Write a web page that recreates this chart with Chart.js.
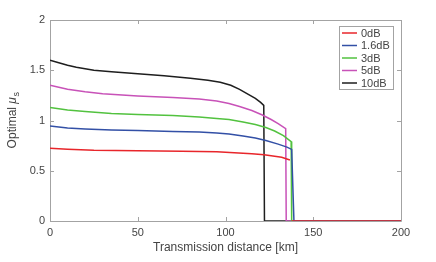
<!DOCTYPE html>
<html>
<head>
<meta charset="utf-8">
<script src="https://cdn.jsdelivr.net/npm/chart.js@4/dist/chart.umd.min.js"></script>
<style>
  html, body { margin: 0; padding: 0; background: #fff; }
  #wrap { width: 436px; height: 262px; }
</style>
</head>
<body>
<div id="wrap"><canvas id="muChart" width="436" height="262"></canvas></div>
<script>
// legend labels and colours
const seriesNames = ['0dB', '1.6dB', '3dB', '5dB', '10dB'];
const seriesColors = ['#e8262b', '#3350a6', '#52c23f', '#c852b8', '#1e1e1e'];

// distance [km] / optimal mu_s (null = line break)
const dist0dB  = [0, 10, 25, 50, 75, 95, 105, 115, 122, 128, 132, 136.7, 137.6, 137.7, 200];
const mu0dB    = [0.725, 0.715, 0.705, 0.70, 0.695, 0.69, 0.68, 0.67, 0.66, 0.645, 0.635, 0.607, null, 0, 0];
const dist16dB = [0, 10, 20, 35, 50, 70, 85, 95, 102, 110, 117, 123, 130, 135, 137.7, 139.0, 200];
const mu16dB   = [0.945, 0.925, 0.915, 0.905, 0.90, 0.89, 0.885, 0.875, 0.865, 0.845, 0.825, 0.80, 0.765, 0.735, 0.712, 0, 0];
const dist3dB  = [0, 10, 20, 35, 50, 70, 85, 95, 102, 110, 117, 123, 128, 133, 137.4, 137.7, 200];
const mu3dB    = [1.13, 1.105, 1.09, 1.07, 1.06, 1.05, 1.035, 1.02, 1.01, 0.985, 0.96, 0.93, 0.895, 0.85, 0.79, 0, 0];
const dist5dB  = [0, 5, 10, 20, 30, 50, 70, 85, 95, 102, 108, 115, 121, 126, 130, 134.3, 134.6, 200];
const mu5dB    = [1.35, 1.33, 1.31, 1.285, 1.265, 1.245, 1.23, 1.215, 1.195, 1.17, 1.14, 1.10, 1.055, 1.01, 0.97, 0.92, 0, 0];
const dist10dB = [0, 5, 10, 15, 20, 25, 35, 50, 65, 80, 90, 97, 103, 108, 113, 117, 120, 121.8, 122.2, 200];
const mu10dB   = [1.60, 1.575, 1.55, 1.53, 1.515, 1.50, 1.485, 1.465, 1.445, 1.42, 1.40, 1.38, 1.35, 1.31, 1.26, 1.22, 1.18, 1.15, 0, 0];

const xTicks = [0, 50, 100, 150, 200];
const yTicks = [0, 0.5, 1, 1.5, 2];

const allDist = [dist0dB, dist16dB, dist3dB, dist5dB, dist10dB];
const allMu = [mu0dB, mu16dB, mu3dB, mu5dB, mu10dB];

const FONT = '"Liberation Sans", Arial, sans-serif';
const AXIS_GRAY = '#a3a3a3';
const TEXT_GRAY = '#444444';

let datasets = seriesNames.map((name, i) => ({
    label: name,
    data: allDist[i].map((d, k) => ({ x: d, y: allMu[i][k] })),
    borderColor: seriesColors[i],
    backgroundColor: seriesColors[i],
    borderWidth: 1.5,
    pointRadius: 0,
    fill: false,
    spanGaps: false,
    tension: 0
}));

// box round the plot with inward ticks, like matlab
const framePlugin = {
    id: 'frame',
    beforeDatasetsDraw(chart) {
        const { ctx, chartArea: a, scales } = chart;
        ctx.save();
        ctx.strokeStyle = AXIS_GRAY;
        ctx.lineWidth = 1;
        ctx.beginPath();
        ctx.rect(Math.round(a.left) + 0.5, Math.round(a.top) + 0.5,
                 Math.round(a.right - a.left), Math.round(a.bottom - a.top));
        xTicks.forEach(v => {
            let px = Math.round(scales.x.getPixelForValue(v)) + 0.5;
            ctx.moveTo(px, a.bottom); ctx.lineTo(px, a.bottom - 4);
            ctx.moveTo(px, a.top); ctx.lineTo(px, a.top + 4);
        });
        yTicks.forEach(v => {
            let py = Math.round(scales.y.getPixelForValue(v)) + 0.5;
            ctx.moveTo(a.left, py); ctx.lineTo(a.left + 4, py);
            ctx.moveTo(a.right, py); ctx.lineTo(a.right - 4, py);
        });
        ctx.stroke();
        ctx.restore();
    },
    afterDraw(chart) {
        const { ctx, chartArea: a } = chart;
        ctx.save();
        // y axis title with italic mu and subscript s
        ctx.translate(13, (a.top + a.bottom) / 2);
        ctx.rotate(-Math.PI / 2);
        ctx.fillStyle = TEXT_GRAY;
        ctx.textBaseline = 'middle';
        let f1 = '12px ' + FONT, f2 = 'italic 12px ' + FONT, f3 = '9px ' + FONT;
        ctx.font = f1; let w1 = ctx.measureText('Optimal ').width;
        ctx.font = f2; let w2 = ctx.measureText('\u03bc').width;
        ctx.font = f3; let w3 = ctx.measureText('s').width;
        let x0 = -(w1 + w2 + w3) / 2;
        ctx.font = f1; ctx.fillText('Optimal ', x0, 0);
        ctx.font = f2; ctx.fillText('\u03bc', x0 + w1, 0);
        ctx.font = f3; ctx.fillText('s', x0 + w1 + w2 + 0.5, 4);
        ctx.restore();

        // legend box in the upper right corner
        ctx.save();
        let boxL = 339.5, boxT = 26.5, boxW = 54, boxH = 63;
        ctx.fillStyle = '#fff';
        ctx.fillRect(boxL, boxT, boxW, boxH);
        ctx.strokeStyle = AXIS_GRAY;
        ctx.lineWidth = 1;
        ctx.strokeRect(boxL, boxT, boxW, boxH);
        ctx.font = '11px ' + FONT;
        ctx.textBaseline = 'middle';
        chart.data.datasets.forEach((ds, i) => {
            let y = 33 + i * 12.5;
            ctx.strokeStyle = ds.borderColor;
            ctx.lineWidth = 1.5;
            ctx.beginPath();
            ctx.moveTo(342, y); ctx.lineTo(357, y);
            ctx.stroke();
            ctx.fillStyle = TEXT_GRAY;
            ctx.fillText(ds.label, 361, y + 0.5);
        });
        ctx.restore();
    }
};

const ctx = document.getElementById('muChart').getContext('2d');
const muChart = new Chart(ctx, {
    type: 'line',
    data: { datasets: datasets },
    options: {
        responsive: false,
        animation: false,
        layout: { padding: { top: 20, right: 35, left: 0, bottom: 0 } },
        plugins: {
            legend: { display: false },
            tooltip: { enabled: false }
        },
        scales: {
            x: {
                type: 'linear',
                min: 0,
                max: 200,
                afterBuildTicks: s => { s.ticks = xTicks.map(v => ({ value: v })); },
                afterFit: s => { s.height = 41; },
                grid: { display: false, drawTicks: false },
                border: { display: false },
                ticks: { color: TEXT_GRAY, font: { family: FONT, size: 11 }, padding: 5, maxRotation: 0,
                         callback: v => String(v) },
                title: { display: true, text: 'Transmission distance [km]', color: TEXT_GRAY,
                         font: { family: FONT, size: 12 }, padding: { top: 2, bottom: 7 } }
            },
            y: {
                min: 0,
                max: 2,
                afterBuildTicks: s => { s.ticks = yTicks.map(v => ({ value: v })); },
                afterFit: s => { s.width = 50; },
                grid: { display: false, drawTicks: false },
                border: { display: false },
                ticks: { color: TEXT_GRAY, font: { family: FONT, size: 11 }, padding: 5,
                         callback: v => String(v) }
            }
        }
    },
    plugins: [framePlugin]
});
</script>
</body>
</html>
